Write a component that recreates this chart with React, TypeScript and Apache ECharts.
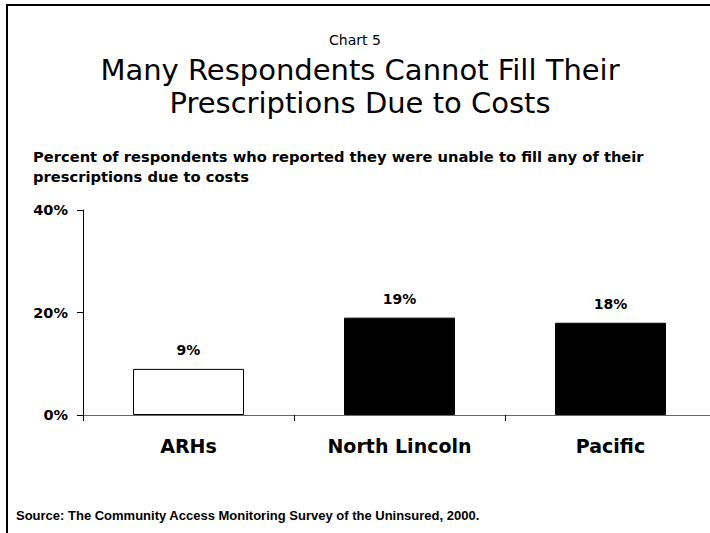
import React, { useEffect, useRef } from "react";
import * as echarts from "echarts";

const categories = ["ARHs", "North Lincoln", "Pacific"];
const values = [9, 19, 18];
const barColors = ["#ffffff", "#000000", "#000000"];
const yTicks = [0, 20, 40];

export default function App() {
  const ref = useRef<HTMLDivElement>(null);
  useEffect(() => {
    const chart = echarts.init(ref.current!, null, { renderer: "svg" });
    chart.setOption({
      animation: false,
      backgroundColor: "#ffffff",
      title: [
        {
          text: "Percent of respondents who reported they were unable to fill any of their\nprescriptions due to costs",
          left: 33,
          top: 146,
          padding: 0,
          textStyle: { fontFamily: "DejaVu Sans", fontWeight: "bold", fontSize: 14.7, lineHeight: 20, color: "#000" },
        },
        {
          text: "Source: The Community Access Monitoring Survey of the Uninsured, 2000.",
          left: 16,
          top: 509,
          padding: 0,
          textStyle: { fontFamily: "Liberation Sans", fontWeight: "bold", fontSize: 13, color: "#000" },
        },
      ],
      graphic: [
        { type: "line", shape: { x1: 6, y1: 5, x2: 710, y2: 5 }, style: { stroke: "#000", lineWidth: 2 } },
        { type: "line", shape: { x1: 7, y1: 4, x2: 7, y2: 533 }, style: { stroke: "#000", lineWidth: 2 } },
        {
          type: "text",
          x: 355,
          y: 40,
          style: {
            text: "Chart 5",
            fill: "#000",
            font: "normal 14px 'DejaVu Sans'",
            align: "center",
            verticalAlign: "middle",
          },
        },
        {
          type: "text",
          x: 360,
          y: 69.5,
          style: {
            text: "Many Respondents Cannot Fill Their",
            fill: "#000",
            font: "normal 29px 'DejaVu Sans'",
            align: "center",
            verticalAlign: "middle",
          },
        },
        {
          type: "text",
          x: 360,
          y: 103,
          style: {
            text: "Prescriptions Due to Costs",
            fill: "#000",
            font: "normal 29px 'DejaVu Sans'",
            align: "center",
            verticalAlign: "middle",
          },
        },
      ],
      grid: { left: 83, width: 633, top: 210, bottom: 118, outerBoundsMode: "none", containLabel: false },
      xAxis: {
        type: "category",
        data: categories,
        axisLine: { lineStyle: { color: "#666", width: 1 } },
        axisTick: { show: true, length: 6, lineStyle: { color: "#000" } },
        axisLabel: {
          margin: 21,
          fontFamily: "DejaVu Sans",
          fontWeight: "bold",
          fontSize: 19,
          color: "#000",
        },
      },
      yAxis: {
        type: "value",
        min: yTicks[0],
        max: yTicks[yTicks.length - 1],
        interval: 20,
        splitLine: { show: false },
        axisLine: { show: true, lineStyle: { color: "#000", width: 1 } },
        axisTick: { show: true, length: 6, lineStyle: { color: "#000" } },
        axisLabel: {
          margin: 15,
          formatter: "{value}%",
          fontFamily: "DejaVu Sans",
          fontWeight: "bold",
          fontSize: 14.5,
          color: "#000",
        },
      },
      series: [
        {
          type: "bar",
          barWidth: 111,
          data: values.map((v, i) => ({
            value: v,
            itemStyle: { color: barColors[i], borderColor: "#000", borderWidth: 1 },
          })),
          label: {
            show: true,
            position: "top",
            distance: 12,
            formatter: "{c}%",
            fontFamily: "DejaVu Sans",
            fontWeight: "bold",
            fontSize: 14,
            color: "#000",
          },
        },
      ],
    });
    return () => chart.dispose();
  }, []);
  return <div ref={ref} style={{ width: 710, height: 533, position: "absolute", left: 0, top: 0 }} />;
}
